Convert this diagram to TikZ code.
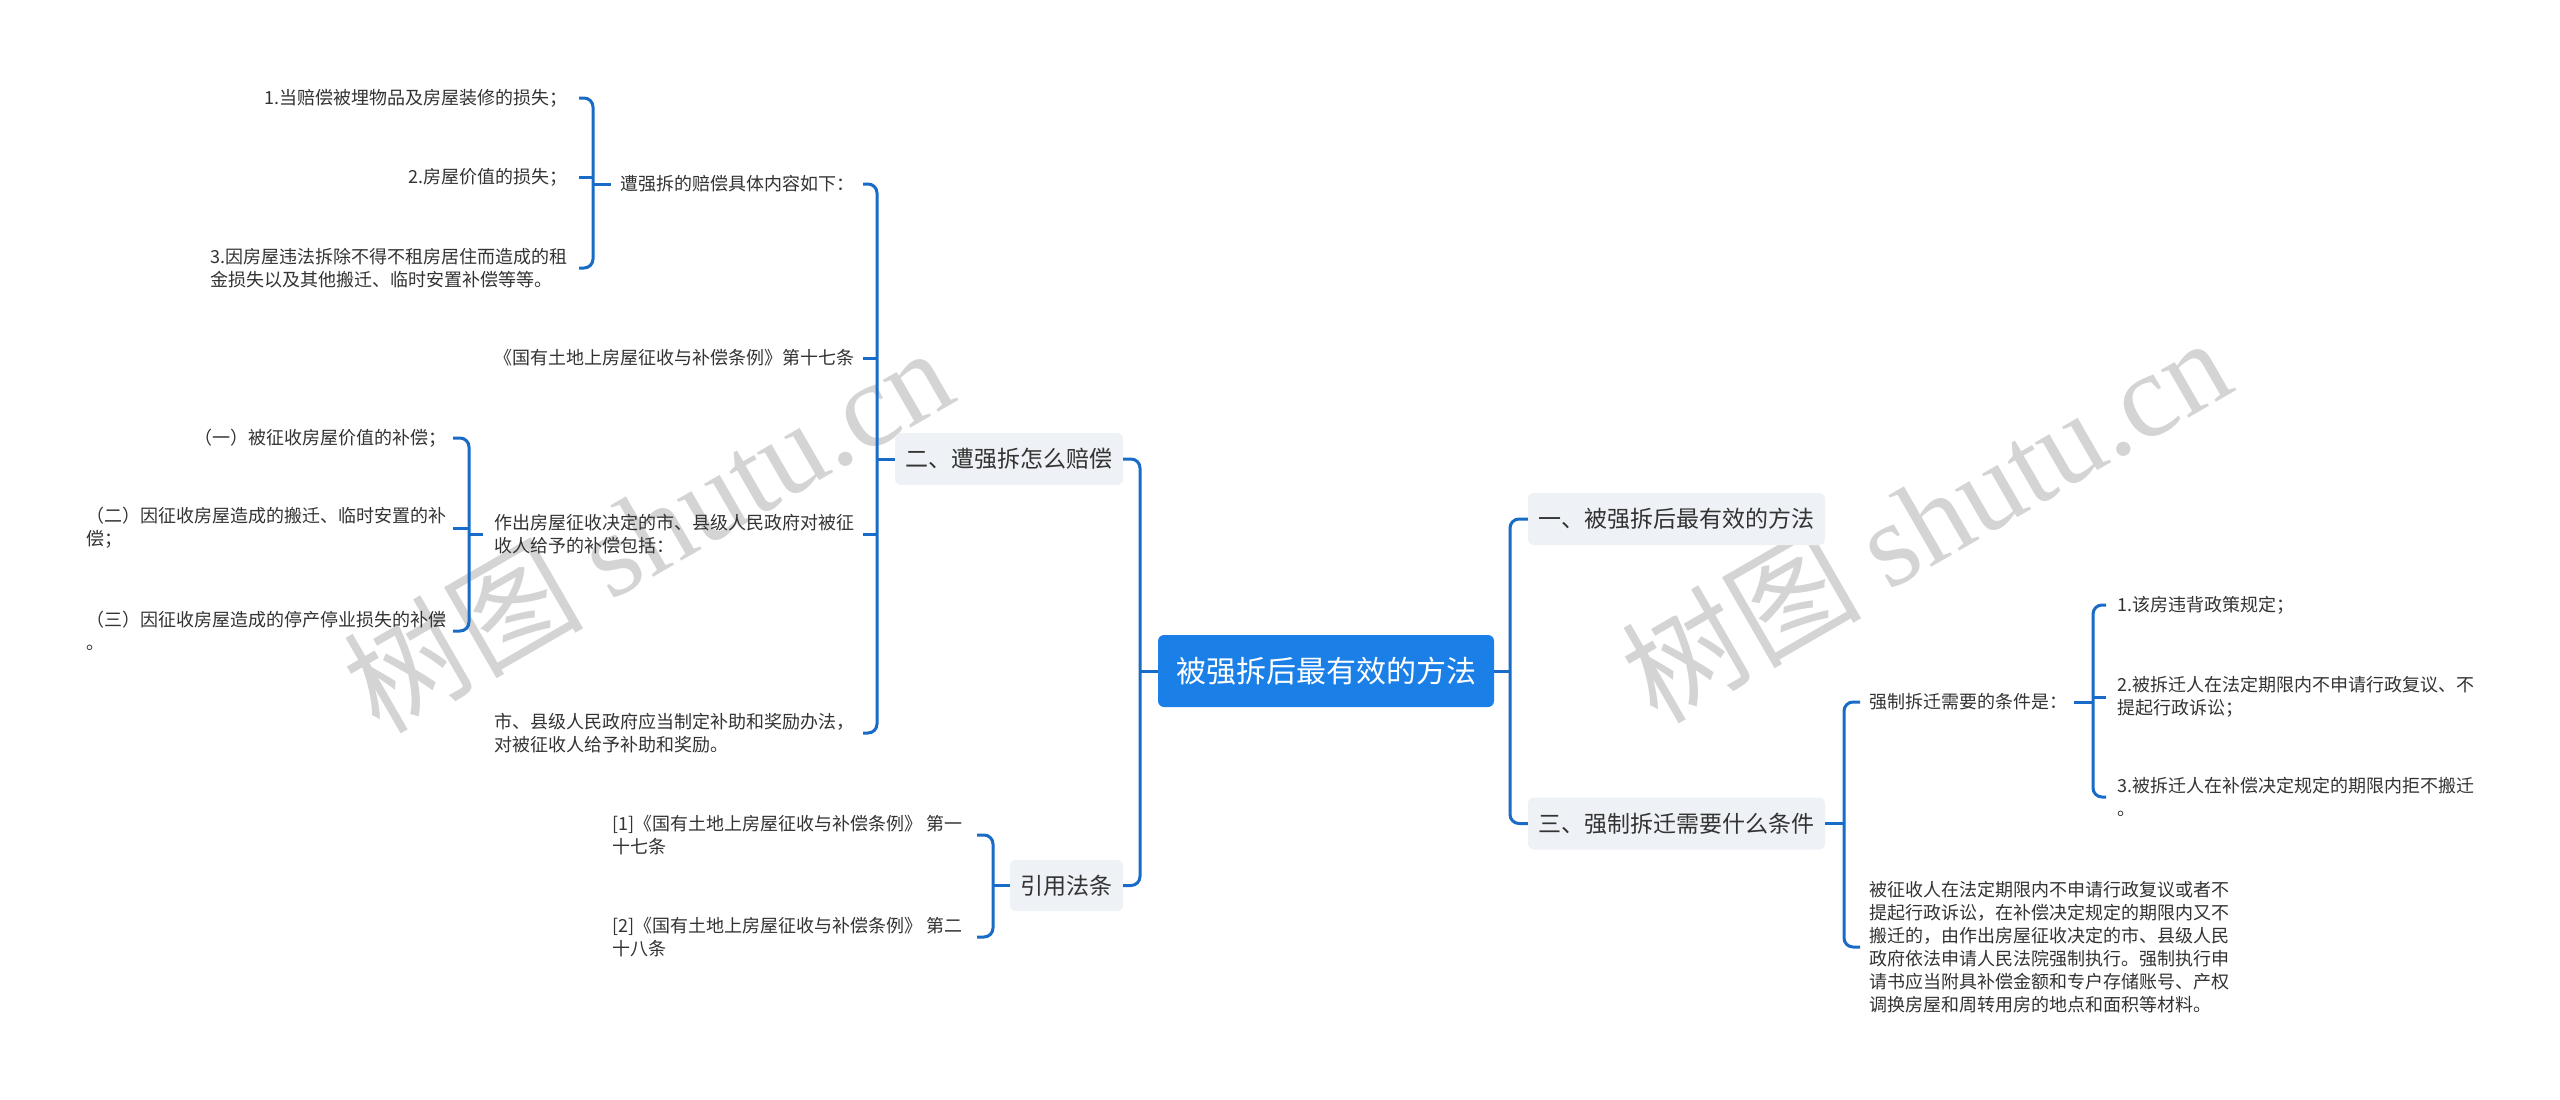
\documentclass[tikz,border=0pt]{standalone}
\usepackage{fontspec}
\setmainfont{Noto Sans CJK SC}
\newfontfamily\wmlatin{Liberation Serif}
\usetikzlibrary{calc}
\definecolor{linkblue}{RGB}{24,108,200}
\definecolor{rootblue}{RGB}{26,128,232}
\definecolor{boxgray}{RGB}{238,241,245}
\definecolor{txt}{RGB}{51,51,51}
\definecolor{wm}{RGB}{212,212,212}
\begin{document}
\begin{tikzpicture}[x=1pt,y=-1pt,
  conn/.style={draw=linkblue,line width=3pt,rounded corners=9pt},
  leaf/.style={inner sep=0pt,align=left,text=txt,font=\fontsize{18}{23}\selectfont},
  branch/.style={fill=boxgray,rounded corners=6pt,text=txt,font=\fontsize{23}{28}\selectfont,inner sep=0pt,minimum height=52pt},
  rootbox/.style={fill=rootblue,rounded corners=6pt,text=white,font=\fontsize{30}{36}\selectfont,inner sep=0pt,minimum width=336pt,minimum height=72pt},
  wmark/.style={text=wm,rotate=30,inner sep=0pt,font=\fontsize{120}{120}\selectfont}
]
\fill[white] (0,0) rectangle (2560,1100);
\useasboundingbox (0,0) rectangle (2560,1100);

% watermarks
\node[wmark] (wmL) at (647,528) {树图 {\wmlatin shutu.cn}};
\node[wmark] (wmR) at (1925,518) {树图 {\wmlatin shutu.cn}};

% trunks
\coordinate (tL) at (1140,0);
\coordinate (tR) at (1510,0);
\coordinate (tA) at (593,0);
\coordinate (tB) at (877,0);
\coordinate (tC) at (469,0);
\coordinate (tD) at (993,0);
\coordinate (tR1) at (1844,0);
\coordinate (tR2) at (2093,0);

% main nodes
\node[rootbox] (root) at (1326,671) {被强拆后最有效的方法};
\node[branch,minimum width=297pt] (yi) at (1676.5,519) {一、被强拆后最有效的方法};
\node[branch,minimum width=297pt] (san) at (1676.5,823.5) {三、强制拆迁需要什么条件};
\node[branch,minimum width=228pt] (er) at (1009,459) {二、遭强拆怎么赔偿};
\node[branch,minimum width=113pt,minimum height=51pt] (yy) at (1066.5,885.5) {引用法条};

% group B (children of er)
\node[leaf,anchor=east] (b1) at (855,184) {遭强拆的赔偿具体内容如下：};
\node[leaf,anchor=east] (b2) at (855,358) {《国有土地上房屋征收与补偿条例》第十七条};
\node[leaf,anchor=east] (b3) at (855,534) {作出房屋征收决定的市、县级人民政府对被征\\收人给予的补偿包括：};
\node[leaf,anchor=east] (b4) at (855,733) {市、县级人民政府应当制定补助和奖励办法，\\对被征收人给予补助和奖励。};

% group A (children of b1)
\node[leaf,anchor=east] (a1) at (568,98) {1.当赔偿被埋物品及房屋装修的损失；};
\node[leaf,anchor=east] (a2) at (568,177) {2.房屋价值的损失；};
\node[leaf,anchor=east] (a3) at (568,268) {3.因房屋违法拆除不得不租房居住而造成的租\\金损失以及其他搬迁、临时安置补偿等等。};

% group C (children of b3)
\node[leaf,anchor=east] (c1) at (447,438) {（一）被征收房屋价值的补偿；};
\node[leaf,anchor=east] (c2) at (447,528) {（二）因征收房屋造成的搬迁、临时安置的补\\偿；};
\node[leaf,anchor=east] (c3) at (447,631) {（三）因征收房屋造成的停产停业损失的补偿\\。};

% group D (children of yy)
\node[leaf,anchor=east] (d1) at (963,835) {[1]《国有土地上房屋征收与补偿条例》 第一\\十七条};
\node[leaf,anchor=east] (d2) at (963,937) {[2]《国有土地上房屋征收与补偿条例》 第二\\十八条};

% right side
\node[leaf,anchor=west] (r1) at (1869,702) {强制拆迁需要的条件是：};
\node[leaf,anchor=west] (r2) at (1869,947) {被征收人在法定期限内不申请行政复议或者不\\提起行政诉讼，在补偿决定规定的期限内又不\\搬迁的，由作出房屋征收决定的市、县级人民\\政府依法申请人民法院强制执行。强制执行申\\请书应当附具补偿金额和专户存储账号、产权\\调换房屋和周转用房的地点和面积等材料。};
\node[leaf,anchor=west] (s1) at (2117,605) {1.该房违背政策规定；};
\node[leaf,anchor=west] (s2) at (2117,697) {2.被拆迁人在法定期限内不申请行政复议、不\\提起行政诉讼；};
\node[leaf,anchor=west] (s3) at (2117,797) {3.被拆迁人在补偿决定规定的期限内拒不搬迁\\。};

% connectors: root
\draw[conn] (root.west) -- (tL |- root.west);
\draw[conn] (root.east) -- (tR |- root.east);
\draw[conn] (er.east) -| (tL |- yy.east) -- (yy.east);
\draw[conn] (yi.west) -| (tR |- san.west) -- (san.west);

% group B
\draw[conn] ([xshift=8pt]b1.east) -| (tB |- b4.east) -- ([xshift=8pt]b4.east);
\draw[conn] ([xshift=8pt]b2.east) -- (tB |- b2.east);
\draw[conn] ([xshift=8pt]b3.east) -- (tB |- b3.east);
\draw[conn] (tB |- er.west) -- (er.west);

% group A
\draw[conn] ([xshift=11pt]a1.east) -| (tA |- a3.east) -- ([xshift=11pt]a3.east);
\draw[conn] ([xshift=11pt]a2.east) -- (tA |- a2.east);
\draw[conn] (tA |- b1.west) -- ([xshift=-10pt]b1.west);

% group C
\draw[conn] ([xshift=6pt]c1.east) -| (tC |- c3.east) -- ([xshift=6pt]c3.east);
\draw[conn] ([xshift=6pt]c2.east) -- (tC |- c2.east);
\draw[conn] (tC |- b3.west) -- ([xshift=-12pt]b3.west);

% group D
\draw[conn] ([xshift=14pt]d1.east) -| (tD |- d2.east) -- ([xshift=14pt]d2.east);
\draw[conn] (tD |- yy.west) -- (yy.west);

% group R1
\draw[conn] (san.east) -- (tR1 |- san.east);
\draw[conn] ([xshift=-9pt]r1.west) -| (tR1 |- r2.west) -- ([xshift=-9pt]r2.west);

% group R2
\draw[conn] ([xshift=7pt]r1.east) -- (tR2 |- r1.east);
\draw[conn] ([xshift=-11pt]s1.west) -| (tR2 |- s3.west) -- ([xshift=-11pt]s3.west);
\draw[conn] ([xshift=-11pt]s2.west) -- (tR2 |- s2.west);
\end{tikzpicture}
\end{document}
